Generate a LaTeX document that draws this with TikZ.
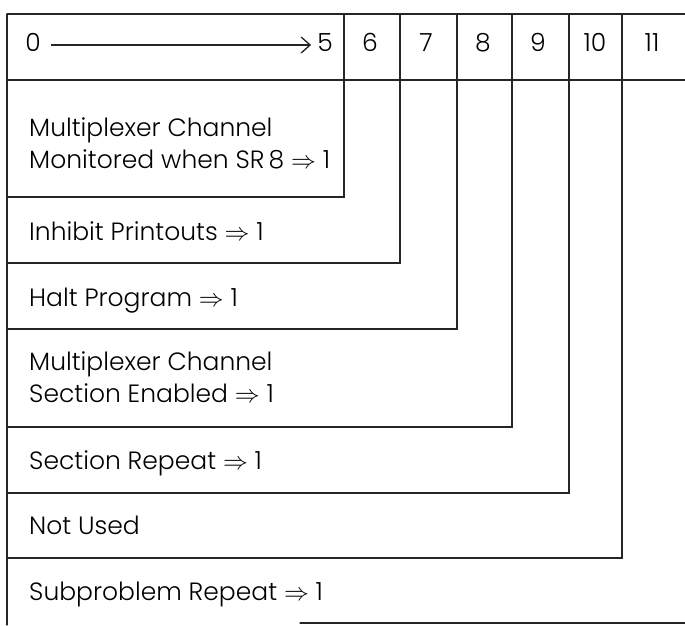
\documentclass[tikz,border=0pt]{standalone}
\usepackage{fontspec}
\setmainfont{Poppins}[UprightFont={* Light}]
\usetikzlibrary{arrows.meta}
\newcommand{\imp}{\smash{$\Rightarrow$}}
\begin{document}
\begin{tikzpicture}[x=1pt,y=-1pt,
  rule/.style={line width=1.3pt, draw=black!85, line cap=round, line join=miter},
  lbl/.style={anchor=base west, inner sep=0pt, align=left, font=\fontsize{25}{32}\selectfont},
  num/.style={anchor=base, inner sep=0pt, font=\fontsize{25}{30}\selectfont}]
\useasboundingbox (0,0) rectangle (685,625);
% frame
\coordinate (tl) at (7,14);
\coordinate (tr) at (685,14);
\coordinate (hl) at (7,80);
\coordinate (hr) at (685,80);
\coordinate (bl) at (7,625);
\draw[rule] (tl) -- (tr);
\draw[rule] (hl) -- (hr);
\draw[rule] (tl) -- (bl);
% nested boxes
\foreach \c/\b in {344/197, 400/263, 457/329, 512/427, 569/493, 622/558}{
  \draw[rule] (\c,14) -- (\c,\b) -- (7,\b);
}
\coordinate (bs) at (300,623);
\coordinate (be) at (685,623);
\draw[rule] (bs) -- (be);
% header
\node[num] (n0) at (33,51) {0};
\node[num] (n5) at (325,51) {5};
\draw[line width=1.3pt, draw=black!85, -{Straight Barb[length=9pt,width=16pt,line width=1.3pt]}] (n0.east |- 0,45) ++(10,0) coordinate (as) -- ([xshift=-6pt]n5.west |- 0,45) coordinate (ae);
\node[num] (n6) at (370,51) {6};
\node[num] (n7) at (426,51) {7};
\node[num] (n8) at (483,51) {8};
\node[num] (n9) at (538,51) {9};
\node[num] (n10) at (595,51) {10};
\node[num] (n11) at (652,51) {11};
% labels (two-line nodes are anchored at the baseline of their last line)
\node[lbl] (t1) at (29,168) {Multiplexer Channel\\Monitored when SR\,8 \imp{} 1};
\node[lbl] (t2) at (29,240) {Inhibit Printouts \imp{} 1};
\node[lbl] (t3) at (29,306) {Halt Program \imp{} 1};
\node[lbl] (t4) at (29,402) {Multiplexer Channel\\Section Enabled \imp{} 1};
\node[lbl] (t5) at (29,469) {Section Repeat \imp{} 1};
\node[lbl] (t6) at (29,534) {Not Used};
\node[lbl] (t7) at (29,600) {Subproblem Repeat \imp{} 1};
\end{tikzpicture}
\end{document}
